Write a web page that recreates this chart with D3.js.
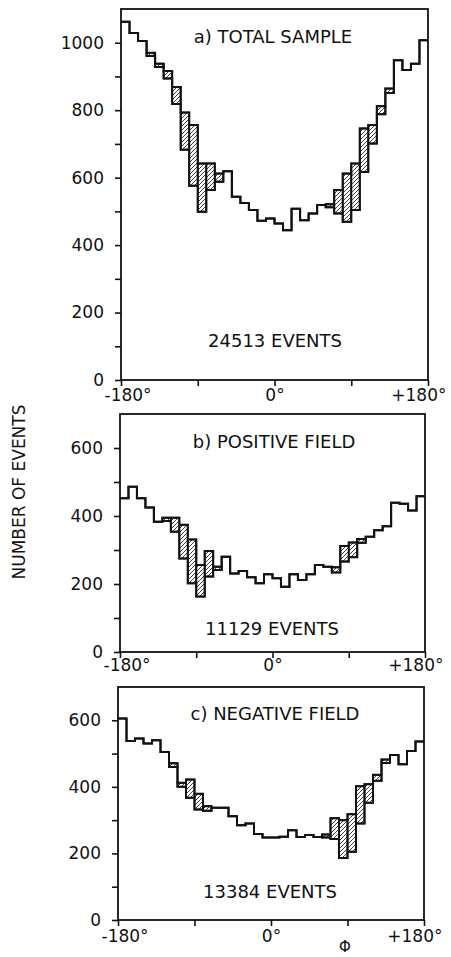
<!DOCTYPE html>
<html>
<head>
<meta charset="utf-8">
<script src="https://cdn.jsdelivr.net/npm/d3@7"></script>
<style>
  body { margin: 0; background: #fff; }
  text { font-family: "DejaVu Sans", sans-serif; fill: #111; }
</style>
</head>
<body>
<svg id="chart" width="451" height="957"></svg>
<script>
// phi bins of 10 degrees
var phiEdges = d3.range(-180, 181, 10);

// a) total sample : upper / lower histograms (hatched between them)
var totalUpper = [1062,1029,1005,970,938,916,869,793,756,642,642,612,619,543,525,504,472,479,
                  464,444,508,474,494,519,521,563,612,642,746,756,812,864,948,919,938,1007];
var totalLower = [1062,1029,1005,961,928,894,818,683,576,499,563,588,619,543,525,504,472,479,
                  464,444,508,474,494,519,512,494,469,504,617,701,788,851,948,919,938,1007];

// b) positive field
var posUpper = [452,486,452,425,383,395,395,374,331,256,297,251,280,231,238,220,202,229,
                217,192,229,212,229,256,251,249,312,322,332,339,358,370,439,436,416,458];
var posLower = [452,486,452,425,383,385,354,275,202,163,222,241,280,231,238,220,202,229,
                217,192,229,212,229,256,251,234,266,279,321,339,358,370,439,436,416,458];

// c) negative field
var negUpper = [605,538,545,530,540,505,471,412,422,379,342,337,337,312,285,290,258,248,
                248,250,270,249,255,249,257,306,300,318,402,408,436,482,496,468,508,536];
var negLower = [605,538,545,530,540,505,460,400,367,332,328,337,337,312,285,290,258,248,
                248,250,270,249,255,249,248,243,186,205,290,352,418,472,496,468,508,536];

var panelTitles = ["a) TOTAL SAMPLE", "b) POSITIVE FIELD", "c) NEGATIVE FIELD"];
var eventLabels = ["24513 EVENTS", "11129 EVENTS", "13384 EVENTS"];
var yMaxes = [1100, 700, 700];
var xTickValues = [-180, -90, 0, 90, 180];
var xTickLabels = {"-180": "-180°", "0": "0°", "180": "+180°"};
var yAxisTitle = "NUMBER OF EVENTS";
var phiLabel = "Φ";

var svg = d3.select("#chart");

var defs = svg.append("defs");
defs.append("pattern")
    .attr("id", "hatch")
    .attr("patternUnits", "userSpaceOnUse")
    .attr("width", 4)
    .attr("height", 4)
  .append("path")
    .attr("d", "M-1,1 l2,-2 M0,4 l4,-4 M3,5 l2,-2")
    .attr("stroke", "#111")
    .attr("stroke-width", 0.8);

function drawPanel(layout, upper, lower, yMax, title, events){
  var g = svg.append("g");

  var x = d3.scaleLinear()
            .domain([-180, 180])
            .range([layout.left, layout.right]);
  var y = d3.scaleLinear()
            .domain([0, yMax])
            .range([layout.bottom, layout.top]);

  // y axis, minor ticks every 100, labels every 200
  var yAxis = d3.axisLeft(y)
                .tickValues(d3.range(0, yMax, 100))
                .tickFormat(d => d % 200 === 0 ? d : "")
                .tickSize(6)
                .tickPadding(11);
  var ya = g.append("g")
            .attr("transform", "translate(" + layout.left + ",0)")
            .call(yAxis);
  ya.select(".domain").remove();
  ya.selectAll("line").attr("stroke", "#111").attr("stroke-width", 1.6);
  ya.selectAll("text").attr("font-size", "17px")
    .style("font-family", "'DejaVu Sans', sans-serif").attr("fill", "#111");

  var xAxis = d3.axisBottom(x)
                .tickValues(xTickValues)
                .tickFormat(d => xTickLabels[d] || "")
                .tickSize(6)
                .tickPadding(layout.labelGap);
  var xa = g.append("g")
            .attr("transform", "translate(0," + layout.bottom + ")")
            .call(xAxis);
  xa.select(".domain").remove();
  xa.selectAll("line").attr("stroke", "#111").attr("stroke-width", 1.6);
  xa.selectAll("text").attr("font-size", "17px")
    .style("font-family", "'DejaVu Sans', sans-serif").attr("fill", "#111");
  // end labels pulled inwards a little: -180 clear of the "0", +180 on the page
  xa.selectAll(".tick")
    .filter(d => d === 180)
    .select("text")
    .style("text-anchor", "end")
    .attr("x", 18);
  xa.selectAll(".tick")
    .filter(d => d === -180)
    .select("text")
    .style("text-anchor", "start")
    .attr("x", -17);

  // hatched bins between the two histograms
  var bins = upper.map((v, i) => ({x0: phiEdges[i], x1: phiEdges[i + 1], hi: v, lo: lower[i]}))
                  .filter(d => d.hi !== d.lo);

  g.selectAll(".hatch")
    .data(bins)
    .enter()
    .append("rect")
    .classed("hatch", true)
    .attr("x", d => x(d.x0))
    .attr("width", d => x(d.x1) - x(d.x0))
    .attr("y", d => y(d.hi))
    .attr("height", d => y(d.lo) - y(d.hi))
    .attr("fill", "url(#hatch)")
    .attr("stroke", "#111")
    .attr("stroke-width", 1.8);

  var step = d3.line()
               .x(d => x(d[0]))
               .y(d => y(d[1]))
               .curve(d3.curveStepAfter);

  [upper, lower].forEach(function(series){
    var pts = series.map((v, i) => [phiEdges[i], v]);
    pts.push([180, series[series.length - 1]]);
    g.append("path")
      .attr("d", step(pts))
      .attr("fill", "none")
      .attr("stroke", "#111")
      .attr("stroke-width", 2)
      .attr("stroke-linejoin", "miter");
  });

  // frame
  g.append("rect")
    .attr("x", layout.left)
    .attr("y", layout.top)
    .attr("width", layout.right - layout.left)
    .attr("height", layout.bottom - layout.top)
    .attr("fill", "none")
    .attr("stroke", "#111")
    .attr("stroke-width", 1.8);

  g.append("text")
    .attr("x", layout.titleX)
    .attr("y", layout.titleY)
    .attr("font-size", "18px")
    .style("text-anchor", "middle")
    .text(title);

  g.append("text")
    .attr("x", layout.eventsX)
    .attr("y", layout.eventsY)
    .attr("font-size", "18px")
    .style("text-anchor", "middle")
    .text(events);
}

var layouts = [
  {left: 121, right: 428, top: 9, bottom: 380, labelGap: 3, titleX: 273, titleY: 43, eventsX: 275, eventsY: 347},
  {left: 120, right: 425, top: 414, bottom: 652, labelGap: 1, titleX: 274, titleY: 448, eventsX: 272, eventsY: 635},
  {left: 118, right: 424, top: 687, bottom: 920, labelGap: 4, titleX: 275, titleY: 720, eventsX: 270, eventsY: 898}
];

drawPanel(layouts[0], totalUpper, totalLower, yMaxes[0], panelTitles[0], eventLabels[0]);
drawPanel(layouts[1], posUpper, posLower, yMaxes[1], panelTitles[1], eventLabels[1]);
drawPanel(layouts[2], negUpper, negLower, yMaxes[2], panelTitles[2], eventLabels[2]);

svg.append("text")
   .attr("transform", "translate(25,492) rotate(-90)")
   .attr("font-size", "17px")
   .style("text-anchor", "middle")
   .text(yAxisTitle);

svg.append("text")
   .attr("x", 345)
   .attr("y", 952)
   .attr("font-size", "15px")
   .style("text-anchor", "middle")
   .text(phiLabel);
</script>
</body>
</html>
